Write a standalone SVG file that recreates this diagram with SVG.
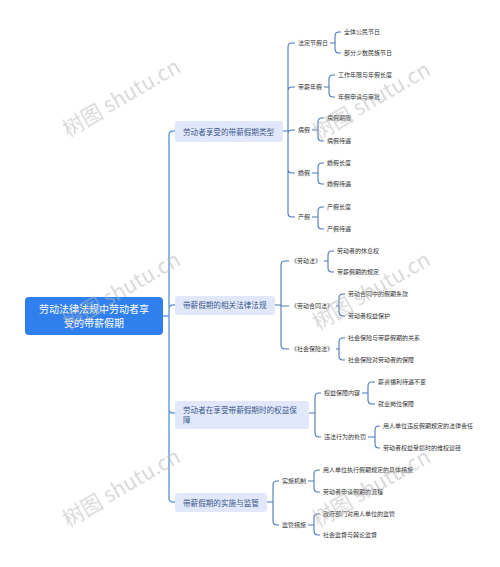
<svg xmlns="http://www.w3.org/2000/svg" width="500" height="567" viewBox="0 0 500 567">
<style>
text{font-family:"Noto Sans CJK SC","Liberation Sans",sans-serif}
.root rect{fill:#2f80ed}
.root text{fill:#fff;font-size:10px}
.l1 rect{fill:#e2e8fb}
.l1 text{fill:#3b5a8c;font-size:7.6px}
.l2 text,.l3 text{fill:#333;font-size:6px}
.trunk{fill:none;stroke:#6c9de0;stroke-width:1.5}
.sub{fill:none;stroke:#4b79b9;stroke-width:1.1}
.wm{font-family:"Liberation Serif","Noto Serif CJK SC","Noto Sans CJK SC",serif;font-size:21px;fill:#b8b8b8;opacity:0.55}
</style>
<rect width="500" height="567" fill="#fff"/>
<g id="connectors">
<path class="trunk" d="M163,316 H169 M169,316 V135 Q169,131 173,131 H175 M169,316 V309 Q169,305 173,305 H175 M169,316 V409 Q169,413 173,413 H175 M169,316 V498 Q169,502 173,502 H175"/>
<path class="sub" d="M283,131 H288 M288,131 V47 Q288,43 292,43 H295 M288,131 V91 Q288,87 292,87 H295 M288,131 V134 Q288,130 292,130 H295 M288,131 V169 Q288,173 292,173 H295 M288,131 V213 Q288,217 292,217 H295"/>
<path class="sub" d="M330,43 H335 M335,43 V36 Q335,32 339,32 H341 M335,43 V49 Q335,53 339,53 H341"/>
<path class="sub" d="M324,87 H329 M329,87 V79 Q329,75 333,75 H335 M329,87 V93 Q329,97 333,97 H335"/>
<path class="sub" d="M312,130 H318 M318,130 V122 Q318,118 322,118 H324 M318,130 V137 Q318,141 322,141 H324"/>
<path class="sub" d="M312,173 H318 M318,173 V167 Q318,163 322,163 H324 M318,173 V180 Q318,184 322,184 H324"/>
<path class="sub" d="M312,217 H318 M318,217 V211 Q318,207 322,207 H324 M318,217 V225 Q318,229 322,229 H324"/>
<path class="sub" d="M275,305 H281 M281,305 V265 Q281,261 285,261 H289 M281,305 V306 H289 M281,305 V345 Q281,349 285,349 H289"/>
<path class="sub" d="M324,261 H328 M328,261 V255 Q328,251 332,251 H334 M328,261 V268 Q328,272 332,272 H334"/>
<path class="sub" d="M336,306 H339 M339,306 V298 Q339,294 343,294 H345 M339,306 V312 Q339,316 343,316 H345"/>
<path class="sub" d="M336,349 H339 M339,349 V342 Q339,338 343,338 H345 M339,349 V356 Q339,360 343,360 H345"/>
<path class="sub" d="M309,413 H315 M315,413 V397 Q315,393 319,393 H321 M315,413 V433 Q315,437 319,437 H321"/>
<path class="sub" d="M362,393 H368 M368,393 V386 Q368,382 372,382 H375 M368,393 V400 Q368,404 372,404 H375"/>
<path class="sub" d="M368,437 H375 M375,437 V430 Q375,426 379,426 H380 M375,437 V444 Q375,448 379,448 H380"/>
<path class="sub" d="M267,502 H273 M273,502 V485 Q273,481 277,481 H279 M273,502 V521 Q273,525 277,525 H279"/>
<path class="sub" d="M308,481 H314 M314,481 V474 Q314,470 318,470 H320 M314,481 V488 Q314,492 318,492 H320"/>
<path class="sub" d="M308,525 H314 M314,525 V518 Q314,514 318,514 H320 M314,525 V531 Q314,535 318,535 H320"/>
</g>
<g id="root" class="root"><rect x="25" y="297" width="138" height="38" rx="4"/><text x="94" y="312.5" text-anchor="middle">劳动法律法规中劳动者享</text><text x="94" y="326.5" text-anchor="middle">受的带薪假期</text></g>
<g id="n1" class="l1"><rect x="175" y="121" width="108" height="21" rx="3"/><text x="183" y="134.5">劳动者享受的带薪假期类型</text></g>
<g id="n2" class="l1"><rect x="175" y="296" width="100" height="19" rx="3"/><text x="183" y="308">带薪假期的相关法律法规</text></g>
<g id="n3" class="l1"><rect x="175" y="401" width="134" height="28" rx="3"/><text x="183" y="413">劳动者在享受带薪假期时的权益保</text><text x="183" y="423">障</text></g>
<g id="n4" class="l1"><rect x="175" y="493" width="92" height="19" rx="3"/><text x="183" y="505.5">带薪假期的实施与监管</text></g>
<g id="n1a" class="l2"><text x="298" y="45">法定节假日</text></g>
<g id="n1a1" class="l3"><text x="344" y="34">全体公民节日</text></g>
<g id="n1a2" class="l3"><text x="344" y="55">部分少数民族节日</text></g>
<g id="n1b" class="l2"><text x="298" y="89">带薪年假</text></g>
<g id="n1b1" class="l3"><text x="338" y="77">工作年限与年假长度</text></g>
<g id="n1b2" class="l3"><text x="338" y="99">年假申请与审批</text></g>
<g id="n1c" class="l2"><text x="298" y="132">病假</text></g>
<g id="n1c1" class="l3"><text x="327" y="120">病假期限</text></g>
<g id="n1c2" class="l3"><text x="327" y="143">病假待遇</text></g>
<g id="n1d" class="l2"><text x="298" y="175">婚假</text></g>
<g id="n1d1" class="l3"><text x="327" y="165">婚假长度</text></g>
<g id="n1d2" class="l3"><text x="327" y="186">婚假待遇</text></g>
<g id="n1e" class="l2"><text x="298" y="219">产假</text></g>
<g id="n1e1" class="l3"><text x="327" y="209">产假长度</text></g>
<g id="n1e2" class="l3"><text x="327" y="231">产假待遇</text></g>
<g id="n2a" class="l2"><text x="291" y="263">《劳动法》</text></g>
<g id="n2a1" class="l3"><text x="337" y="253">劳动者的休息权</text></g>
<g id="n2a2" class="l3"><text x="337" y="274">带薪假期的规定</text></g>
<g id="n2b" class="l2"><text x="291" y="308">《劳动合同法》</text></g>
<g id="n2b1" class="l3"><text x="348" y="296">劳动合同中的假期条款</text></g>
<g id="n2b2" class="l3"><text x="348" y="318">劳动者权益保护</text></g>
<g id="n2c" class="l2"><text x="291" y="351">《社会保险法》</text></g>
<g id="n2c1" class="l3"><text x="348" y="340">社会保险与带薪假期的关系</text></g>
<g id="n2c2" class="l3"><text x="348" y="362">社会保险对劳动者的保障</text></g>
<g id="n3a" class="l2"><text x="324" y="395">权益保障内容</text></g>
<g id="n3a1" class="l3"><text x="378" y="384">薪资福利待遇不变</text></g>
<g id="n3a2" class="l3"><text x="378" y="406">就业岗位保障</text></g>
<g id="n3b" class="l2"><text x="324" y="439">违法行为的处罚</text></g>
<g id="n3b1" class="l3"><text x="383" y="428">用人单位违反假期规定的法律责任</text></g>
<g id="n3b2" class="l3"><text x="383" y="450">劳动者权益受损时的维权途径</text></g>
<g id="n4a" class="l2"><text x="282" y="483">实施机制</text></g>
<g id="n4a1" class="l3"><text x="323" y="472">用人单位执行假期规定的具体措施</text></g>
<g id="n4a2" class="l3"><text x="323" y="494">劳动者申请假期的流程</text></g>
<g id="n4b" class="l2"><text x="282" y="527">监管措施</text></g>
<g id="n4b1" class="l3"><text x="323" y="516">政府部门对用人单位的监管</text></g>
<g id="n4b2" class="l3"><text x="323" y="537">社会监督与舆论监督</text></g>
<g id="watermarks" class="wm">
<text transform="translate(68,137) rotate(-30)">树图 shutu.cn</text>
<text transform="translate(318,140) rotate(-30)">树图 shutu.cn</text>
<text transform="translate(68,330) rotate(-30)">树图 shutu.cn</text>
<text transform="translate(318,330) rotate(-30)">树图 shutu.cn</text>
<text transform="translate(68,527) rotate(-30)">树图 shutu.cn</text>
<text transform="translate(318,527) rotate(-30)">树图 shutu.cn</text>
</g>
</svg>
